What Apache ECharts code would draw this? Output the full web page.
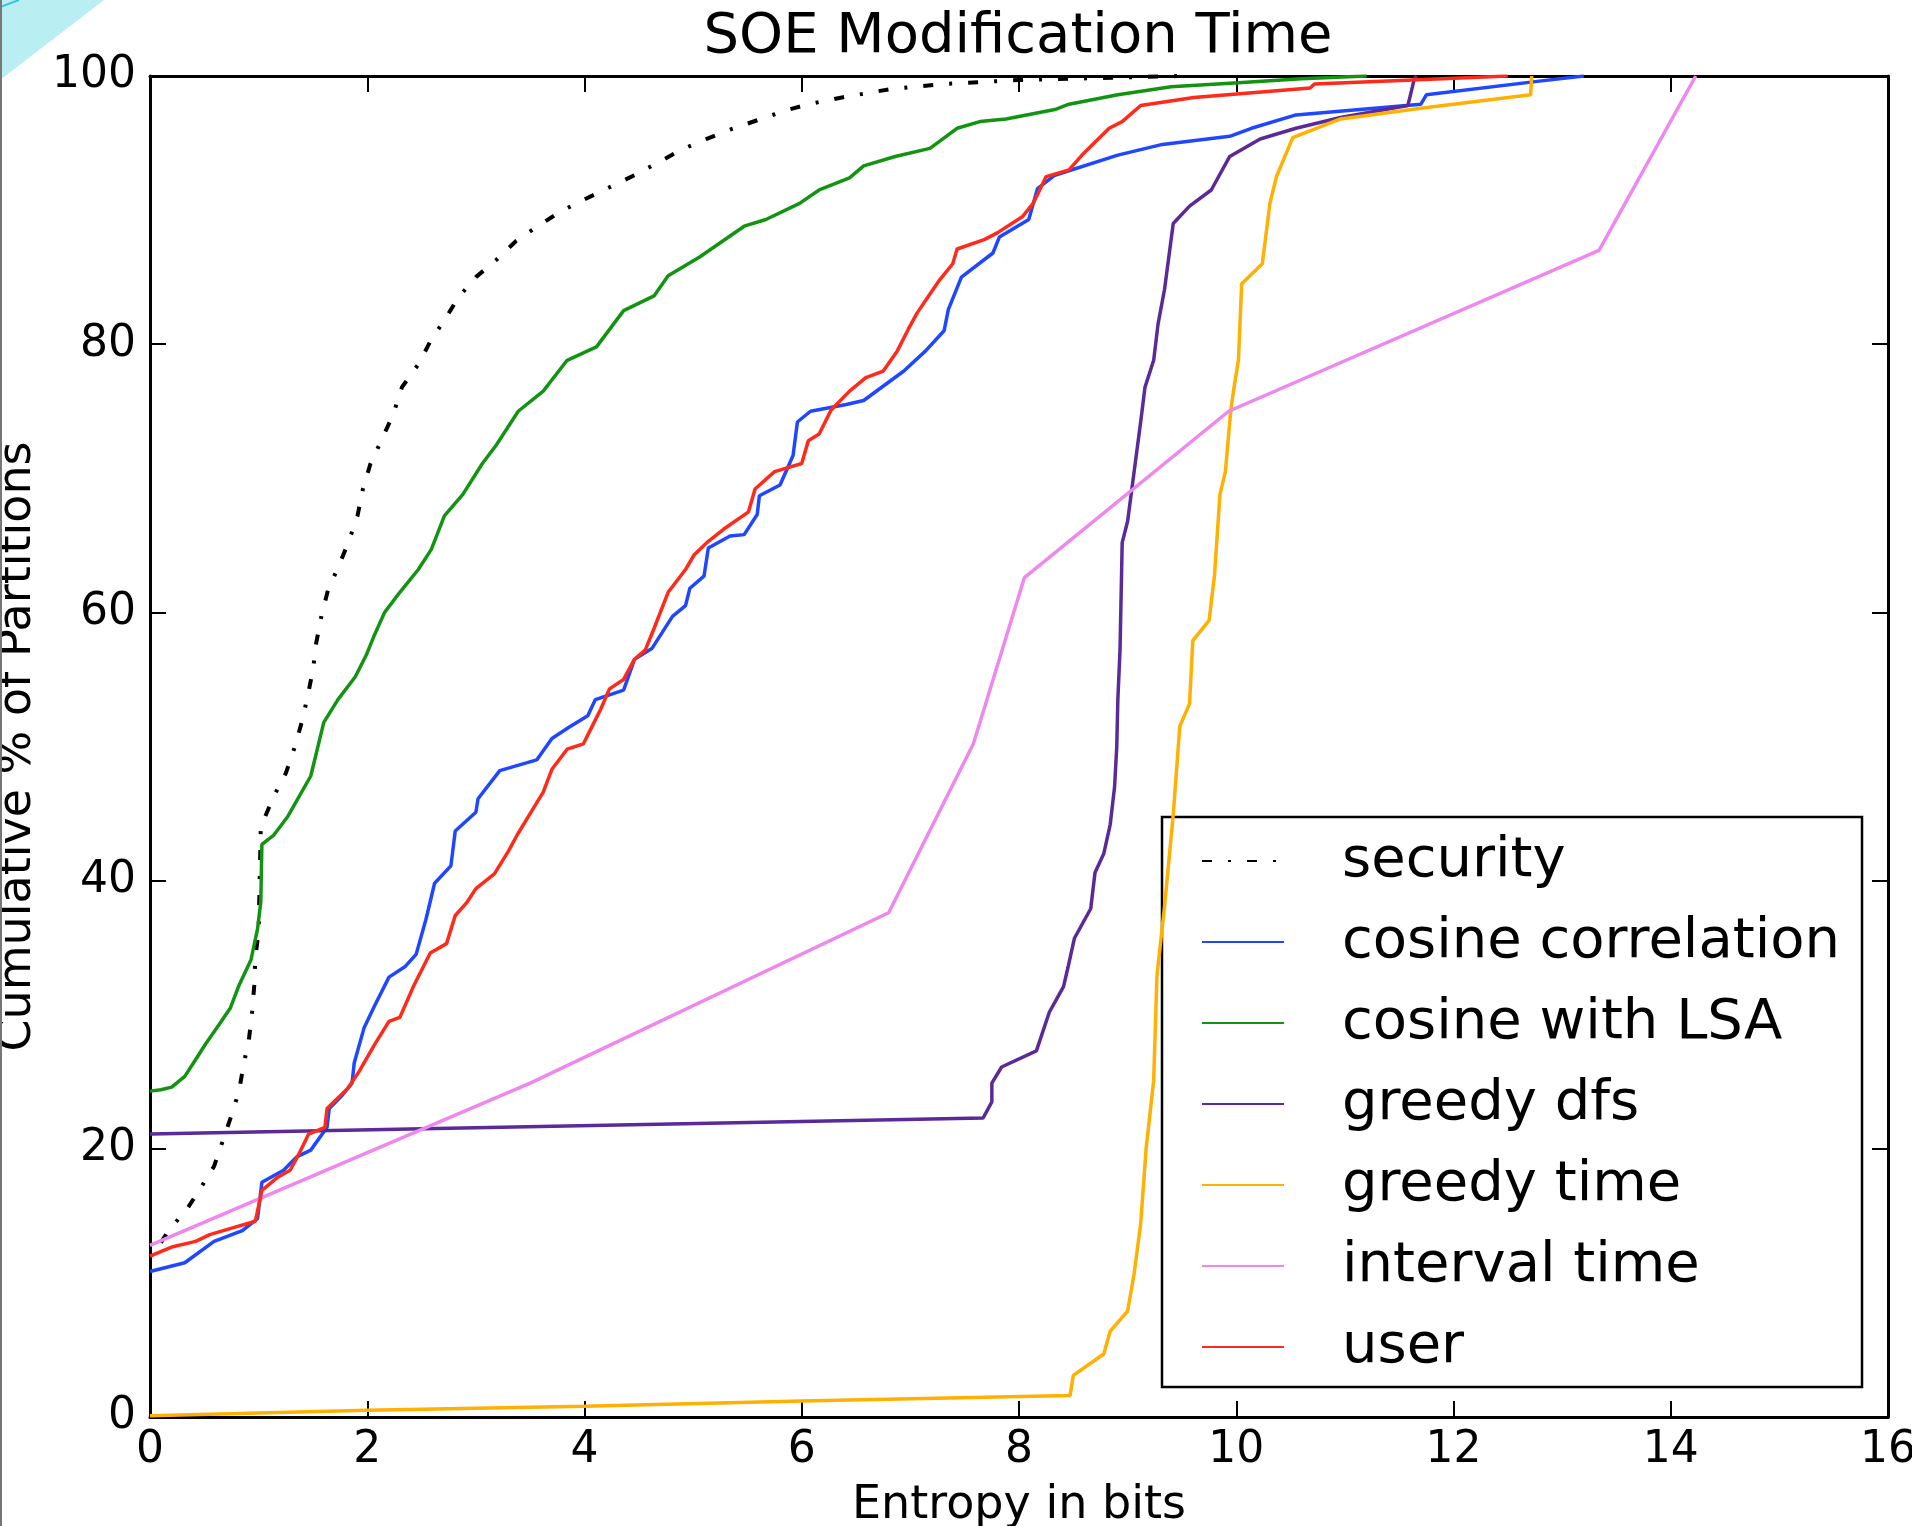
<!DOCTYPE html>
<html>
<head>
<meta charset="utf-8">
<script src="https://cdn.jsdelivr.net/npm/echarts@6/dist/echarts.min.js"></script>
<style>
  html, body { margin: 0; padding: 0; background: #fff; }
  #main { width: 1912px; height: 1526px; }
</style>
</head>
<body>
<div id="main"></div>
<script>
// series names, in legend order
var seriesNames = ["security", "cosine correlation", "cosine with LSA", "greedy dfs", "greedy time", "interval time", "user"];

// [entropy in bits, cumulative % of partitions]
var security = [
  [0.1, 13.0], [0.17, 13.9], [0.34, 15.5], [0.46, 17.0], [0.59, 18.7], [0.67, 20.6], [0.75, 22.5],
  [0.82, 24.3], [0.86, 26.2], [0.91, 28.1], [0.94, 30.2], [0.96, 32.2], [0.97, 34.3], [1.0, 36.2],
  [1.02, 44.0], [1.14, 46.3], [1.25, 48.0], [1.33, 49.9], [1.4, 51.9], [1.45, 53.7], [1.5, 55.7],
  [1.53, 57.7], [1.58, 59.8], [1.64, 61.7], [1.74, 63.5], [1.83, 65.3], [1.91, 67.2], [1.96, 69.2],
  [2.03, 71.1], [2.14, 73.0], [2.24, 74.8], [2.32, 76.8], [2.47, 78.5], [2.58, 80.2], [2.71, 81.8],
  [2.84, 83.5], [3.0, 85.0], [3.19, 86.3], [3.37, 87.7], [3.57, 88.8], [3.78, 89.9], [4.0, 90.8],
  [4.23, 91.7], [4.46, 92.6], [4.69, 93.6], [4.89, 94.5], [5.12, 95.3], [5.34, 96.0], [5.59, 96.7],
  [5.84, 97.4], [6.06, 97.9], [6.37, 98.4], [6.8, 99.0], [7.3, 99.4], [8.0, 99.7], [9.0, 99.9], [9.5, 100]
];

var cosineCorrelation = [
  [0, 10.85], [0.32, 11.5], [0.59, 13.1], [0.85, 13.9], [0.99, 14.8], [1.03, 17.5], [1.23, 18.4],
  [1.35, 19.4], [1.48, 19.9], [1.63, 21.6], [1.65, 23.0], [1.77, 24.0], [1.86, 24.9], [1.88, 26.4],
  [1.97, 29.0], [2.07, 30.7], [2.2, 32.8], [2.35, 33.6], [2.45, 34.5], [2.54, 37.1], [2.62, 39.8],
  [2.77, 41.1], [2.81, 43.7], [3.0, 45.1], [3.02, 46.1], [3.22, 48.2], [3.56, 49.0], [3.7, 50.6],
  [3.85, 51.4], [4.03, 52.3], [4.1, 53.5], [4.36, 54.2], [4.46, 56.5], [4.62, 57.3], [4.81, 59.7],
  [4.93, 60.5], [4.97, 61.8], [5.1, 62.7], [5.14, 64.8], [5.34, 65.7], [5.47, 65.8], [5.59, 67.3],
  [5.61, 68.7], [5.8, 69.5], [5.92, 71.7], [5.96, 74.2], [6.08, 75.0], [6.41, 75.5], [6.57, 75.8],
  [6.94, 78.0], [7.14, 79.5], [7.31, 81.0], [7.35, 82.6], [7.47, 85.0], [7.76, 86.8], [7.82, 88.0],
  [8.09, 89.3], [8.17, 91.6], [8.33, 92.6], [8.91, 94.1], [9.32, 94.9], [9.94, 95.5], [10.14, 96.1],
  [10.55, 97.1], [11.7, 97.9], [11.75, 98.6], [12.77, 99.6], [13.2, 100]
];

var cosineLSA = [
  [0, 24.3], [0.1, 24.4], [0.2, 24.6], [0.32, 25.4], [0.4, 26.4], [0.51, 27.8], [0.63, 29.2],
  [0.74, 30.5], [0.82, 32.2], [0.93, 34.1], [0.99, 36.4], [1.02, 38.4], [1.03, 42.7], [1.14, 43.4],
  [1.27, 44.8], [1.48, 47.8], [1.6, 51.8], [1.73, 53.5], [1.89, 55.2], [1.99, 56.8], [2.06, 58.2],
  [2.16, 60.0], [2.3, 61.5], [2.47, 63.2], [2.59, 64.7], [2.71, 67.2], [2.88, 68.8], [3.06, 71.1],
  [3.19, 72.5], [3.39, 75.0], [3.62, 76.5], [3.84, 78.8], [4.11, 79.8], [4.36, 82.5], [4.64, 83.6],
  [4.77, 85.1], [5.06, 86.5], [5.47, 88.8], [5.67, 89.3], [5.98, 90.5], [6.16, 91.5], [6.44, 92.4],
  [6.57, 93.3], [6.86, 94.0], [7.18, 94.6], [7.43, 96.1], [7.64, 96.6], [7.88, 96.8], [8.33, 97.5],
  [8.46, 97.9], [8.91, 98.6], [9.4, 99.2], [10.02, 99.5], [10.6, 99.8], [11.2, 100]
];

var greedyDfs = [
  [0, 21.1], [7.67, 22.3], [7.75, 23.5], [7.75, 24.9], [7.84, 26.1], [8.16, 27.3], [8.28, 30.2],
  [8.41, 32.1], [8.45, 33.5], [8.51, 35.7], [8.66, 37.9], [8.7, 40.6], [8.78, 42.0], [8.84, 44.2],
  [8.88, 47.0], [8.9, 50.0], [8.91, 53.5], [8.93, 57.2], [8.95, 65.2], [9.0, 66.8], [9.06, 70.5],
  [9.12, 74.2], [9.16, 76.8], [9.24, 78.8], [9.28, 81.5], [9.34, 84.1], [9.42, 89.0], [9.57, 90.3],
  [9.77, 91.5], [9.94, 94.0], [10.22, 95.3], [10.55, 96.1], [10.96, 96.9], [11.58, 97.8],
  [11.64, 99.8], [11.66, 100]
];

var greedyTime = [
  [0, 0.1], [2, 0.5], [4, 0.8], [6, 1.2], [8.47, 1.6], [8.5, 3.1], [8.78, 4.7], [8.84, 6.4],
  [9.0, 7.9], [9.06, 10.7], [9.12, 14.4], [9.17, 20.0], [9.24, 25.1], [9.27, 32.9], [9.34, 38.1],
  [9.42, 44.9], [9.48, 51.5], [9.57, 53.2], [9.6, 57.9], [9.75, 59.4], [9.8, 62.8], [9.85, 68.8],
  [9.9, 70.5], [9.95, 75.1], [9.98, 76.8], [10.02, 78.8], [10.05, 84.5], [10.24, 86.0],
  [10.31, 90.5], [10.37, 92.5], [10.52, 95.4], [10.96, 96.8], [11.7, 97.6], [12.71, 98.6], [12.72, 100]
];

var intervalTime = [
  [0, 12.8], [3.5, 24.9], [6.8, 37.6], [7.58, 50.2], [8.05, 62.6], [9.93, 75.0], [13.34, 87.0], [14.23, 100]
];

var user = [
  [0, 12.0], [0.21, 12.7], [0.42, 13.1], [0.55, 13.6], [0.76, 14.1], [0.97, 14.6], [1.03, 16.9],
  [1.18, 17.9], [1.29, 18.4], [1.37, 19.6], [1.46, 21.1], [1.61, 21.6], [1.63, 23.0], [1.82, 24.5],
  [1.92, 25.7], [2.07, 27.8], [2.2, 29.5], [2.3, 29.8], [2.43, 32.2], [2.58, 34.6], [2.73, 35.3],
  [2.81, 37.4], [2.92, 38.4], [3.0, 39.4], [3.17, 40.5], [3.3, 42.2], [3.38, 43.4], [3.53, 45.4],
  [3.62, 46.6], [3.7, 48.3], [3.84, 49.8], [3.99, 50.2], [4.07, 51.5], [4.15, 52.8], [4.23, 54.3],
  [4.36, 55.0], [4.46, 56.5], [4.56, 57.2], [4.64, 58.8], [4.77, 61.5], [4.93, 63.2], [5.01, 64.3],
  [5.14, 65.3], [5.28, 66.2], [5.51, 67.5], [5.57, 69.2], [5.75, 70.5], [6.0, 71.1], [6.06, 72.8],
  [6.16, 73.3], [6.27, 75.1], [6.44, 76.5], [6.59, 77.5], [6.75, 78.0], [6.88, 79.5], [6.98, 81.1],
  [7.06, 82.3], [7.16, 83.5], [7.27, 84.8], [7.39, 86.0], [7.43, 87.1], [7.68, 87.8], [7.8, 88.3],
  [8.03, 89.5], [8.13, 90.5], [8.25, 92.5], [8.46, 93.0], [8.58, 94.1], [8.83, 96.1], [8.95, 96.6],
  [9.12, 97.8], [9.61, 98.4], [10.68, 99.1], [10.72, 99.4], [11.62, 99.7], [12.5, 100]
];

var seriesData = [security, cosineCorrelation, cosineLSA, greedyDfs, greedyTime, intervalTime, user];
var colors = ["#000000", "#1f47ff", "#129412", "#5a2a98", "#ffb000", "#ee88ee", "#ff2a1a"];

var font = "DejaVu Sans";

var seriesArr = [];
seriesData.forEach(function (d, i) {
  seriesArr.push({
    name: seriesNames[i],
    type: "line",
    data: d,
    symbol: "none",
    showSymbol: false,
    color: colors[i],
    xAxisIndex: 0,
    yAxisIndex: 0,
    lineStyle: {
      width: i === 0 ? 4 : 3.5,
      color: colors[i],
      type: i === 0 ? [10, 16, 3, 16] : "solid"
    },
    z: 2 + i
  });
});

// 坐标轴公共样式 (ticks inside, box on all four sides)
function axisCommon(showLabel) {
  return {
    type: "value",
    min: 0,
    axisLine: { show: true, onZero: false, lineStyle: { color: "#000", width: 3 } },
    axisTick: { show: true, inside: true, length: 16, lineStyle: { color: "#000", width: 2 } },
    splitLine: { show: false },
    axisLabel: { show: showLabel, color: "#000", fontSize: 44, fontFamily: font }
  };
}

var xBottom = axisCommon(true);
xBottom.max = 16; xBottom.interval = 2;
xBottom.position = "bottom";
xBottom.axisLabel.margin = 12;
xBottom.name = "Entropy in bits";
xBottom.nameLocation = "middle";
xBottom.nameGap = 66;
xBottom.nameTextStyle = { fontSize: 46, fontFamily: font, color: "#000" };

var xTop = axisCommon(false);
xTop.max = 16; xTop.interval = 2; xTop.position = "top";

var yLeft = axisCommon(true);
yLeft.max = 100; yLeft.interval = 20; yLeft.position = "left";
yLeft.axisLabel.margin = 14;
yLeft.name = "Cumulative % of Partitions";
yLeft.nameLocation = "middle";
yLeft.nameGap = 105;
yLeft.nameRotate = 90;
yLeft.nameTextStyle = { fontSize: 46, fontFamily: font, color: "#000" };

var yRight = axisCommon(false);
yRight.max = 100; yRight.interval = 20; yRight.position = "right";

var option = {
  animation: false,
  backgroundColor: "#fff",
  title: {
    text: "SOE Modification Time",
    left: 1013,
    textAlign: "center",
    top: 4,
    textStyle: { fontSize: 56, fontWeight: "normal", fontFamily: font, color: "#000" }
  },
  grid: { left: 150, right: 24, top: 76, bottom: 109, containLabel: false, outerBoundsMode: "none" },
  xAxis: [xBottom, xTop],
  yAxis: [yLeft, yRight],
  legend: {
    orient: "vertical",
    left: 1162,
    top: 817,
    padding: [14, 22, 10, 39],
    itemWidth: 82,
    itemHeight: 20,
    itemGap: 21,
    backgroundColor: "#fff",
    borderColor: "#000",
    borderWidth: 2.5,
    borderRadius: 0,
    itemStyle: { opacity: 0 },
    textStyle: { fontSize: 56, fontFamily: font, color: "#000", lineHeight: 60, padding: [0, 0, 0, 53] },
    data: seriesNames
  },
  graphic: [
    {
      type: "polygon",
      shape: { points: [[0, 0], [104, 0], [0, 80]] },
      style: { fill: "#b9eef2" },
      z: 100
    },
    {
      type: "line",
      shape: { x1: 0, y1: 7, x2: 19, y2: 0 },
      style: { stroke: "#3cc4d6", lineWidth: 2 },
      z: 101
    },
    {
      type: "line",
      shape: { x1: 1, y1: 0, x2: 1, y2: 1526 },
      style: { stroke: "#777", lineWidth: 2 },
      z: 101
    }
  ],
  series: seriesArr
};

var myChart = echarts.init(document.getElementById("main"), null, { renderer: "canvas" });
myChart.setOption(option);
</script>
</body>
</html>
